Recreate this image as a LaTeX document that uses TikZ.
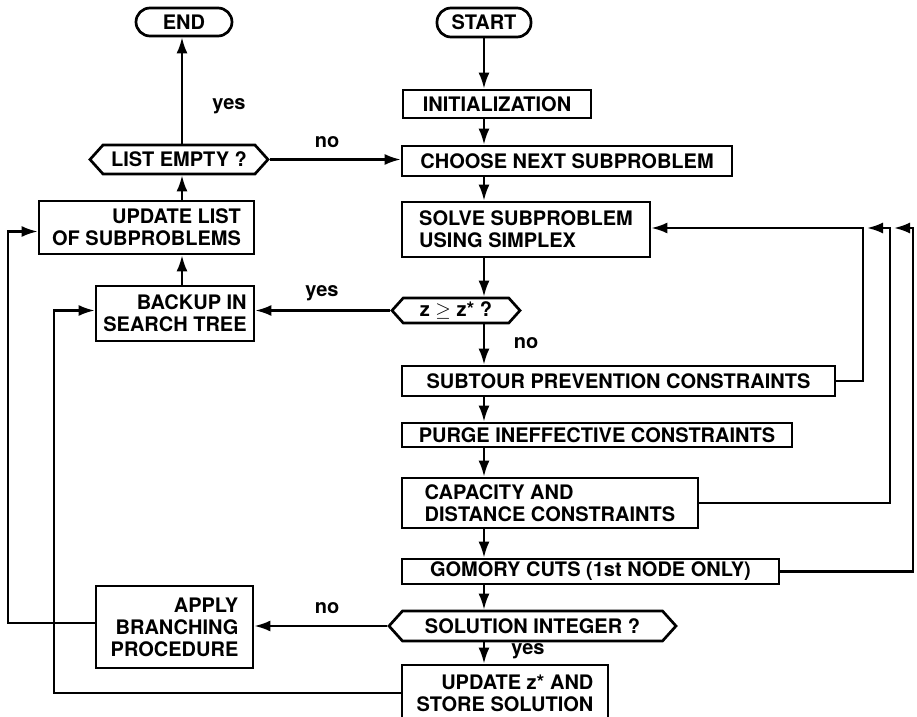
\documentclass[tikz,border=0pt]{standalone}
\usepackage{fontspec}
\setmainfont{TeX Gyre Heros}
\usepackage{tikz}
\usetikzlibrary{arrows.meta,shapes.symbols}
\tikzset{every picture/.append style={font=\fontsize{10}{11}\selectfont\bfseries}}
\tikzset{
  procbox/.style={draw,line width=1.35pt,inner sep=0pt},
  termbox/.style={draw,line width=1.35pt,rounded corners=7pt,inner sep=0pt},
  testbox/.style={draw,line width=1.35pt,signal,signal to=west and east,
    signal pointer angle=96,inner sep=0pt},
  flow/.style={->,line width=1.15pt},
  answer/.style={inner sep=1pt}
}

\begin{document}
\begin{tikzpicture}[x=0.5pt,y=-0.5pt,>={Latex[length=8pt,width=5.5pt]}]
    \useasboundingbox (0,0) rectangle (917,717);
    \coordinate (spine) at (484,0);
    \coordinate (lcol) at (182,0);
    % right column
    \node[termbox,minimum width=47pt,minimum height=14.5pt] (start) at (484,22.5) {START};
    \node[procbox,minimum width=94pt,minimum height=14pt] (init) at (497,104) {INITIALIZATION};
    \node[procbox,minimum width=165pt,minimum height=15pt] (choose) at (567,161) {CHOOSE NEXT SUBPROBLEM};
    \node[procbox,align=left,minimum width=124pt,minimum height=27.5pt] (solve) at (526,229.5) {SOLVE SUBPROBLEM\\USING SIMPLEX};
    \node[testbox,minimum width=64pt,minimum height=12.5pt] (zdec) at (456,310.5) {z $\geq$ z* ?};
    \node[procbox,minimum width=216.5pt,minimum height=15pt] (subtour) at (618.5,381) {SUBTOUR PREVENTION CONSTRAINTS};
    \node[procbox,minimum width=195pt,minimum height=12pt] (purge) at (597,435) {PURGE INEFFECTIVE CONSTRAINTS};
    \node[procbox,align=left,minimum width=148pt,minimum height=25pt] (capac) at (550,503) {CAPACITY AND\\DISTANCE CONSTRAINTS};
    \node[procbox,minimum width=188.5pt,minimum height=12.5pt] (gomory) at (590.5,571.5) {GOMORY CUTS (1st NODE ONLY)};
    \node[testbox,minimum width=143.5pt,minimum height=15pt] (solint) at (532.5,626) {SOLUTION INTEGER ?};
    \node[procbox,align=right,minimum width=103pt,minimum height=28pt] (updz) at (505,693) {UPDATE z* AND\\STORE SOLUTION};
    % left column
    \node[termbox,minimum width=48pt,minimum height=14pt] (end) at (184,22) {END};
    \node[testbox,minimum width=89pt,minimum height=14.5pt] (listempty) at (179,159.5) {LIST EMPTY ?};
    \node[procbox,align=right,minimum width=107.5pt,minimum height=26.5pt] (updlist) at (146.5,227.5) {UPDATE LIST\\OF SUBPROBLEMS};
    \node[procbox,align=right,minimum width=79pt,minimum height=27.5pt] (backup) at (175,313.5) {BACKUP IN\\SEARCH TREE};
    \node[procbox,align=right,minimum width=78.5pt,minimum height=41pt] (apply) at (174.5,627) {APPLY\\BRANCHING\\PROCEDURE};
    % answers
    \node[answer] (yesend) at (229,106) {yes};
    \node[answer] (nolist) at (327,142) {no};
    \node[answer] (yesz) at (322,293) {yes};
    \node[answer] (noz) at (526,343) {no};
    \node[answer] (nosol) at (327,608) {no};
    \node[answer] (yessol) at (528,651) {yes};
    % main flow
    \foreach \a/\b in {start/init,init/choose,choose/solve,solve/zdec,zdec/subtour,
      subtour/purge,purge/capac,capac/gomory,gomory/solint,solint/updz}
      \draw[flow] (\a.south -| spine) -- (\b.north -| spine);
    \draw[flow] (backup.north -| lcol) -- (updlist.south -| lcol);
    \draw[flow] (updlist.north -| lcol) -- (listempty.south -| lcol);
    \draw[flow] (listempty.north -| lcol) -- (end.south -| lcol);
    \draw[flow] (listempty.east) -- (listempty.east -| choose.west);
    \draw[flow] (zdec.west) -- (zdec.west -| backup.east);
    \draw[flow] (solint.west) -- (solint.west -| apply.east);
    % constraint loops
    \coordinate (loopa) at (863,228);
    \coordinate (loopb) at (890,228);
    \coordinate (loopc) at (913,228);
    \draw[flow] (subtour.east) -| (loopa) -- (loopa -| solve.east);
    \draw[flow] (capac.east) -| (loopb) -- ([xshift=2pt]loopa);
    \draw[flow] (gomory.east) -| (loopc) -- ([xshift=2pt]loopb);
    % back to the list
    \coordinate (leftfar) at (8,0);
    \coordinate (leftnear) at (54,0);
    \draw[flow] ([yshift=2pt]apply.west) -- ([yshift=2pt]apply.west -| leftfar) |- ([yshift=-2pt]updlist.west);
    \draw[flow] (updz.west) -- (updz.west -| leftnear) |- ([yshift=1.5pt]backup.west);
\end{tikzpicture}
\end{document}
